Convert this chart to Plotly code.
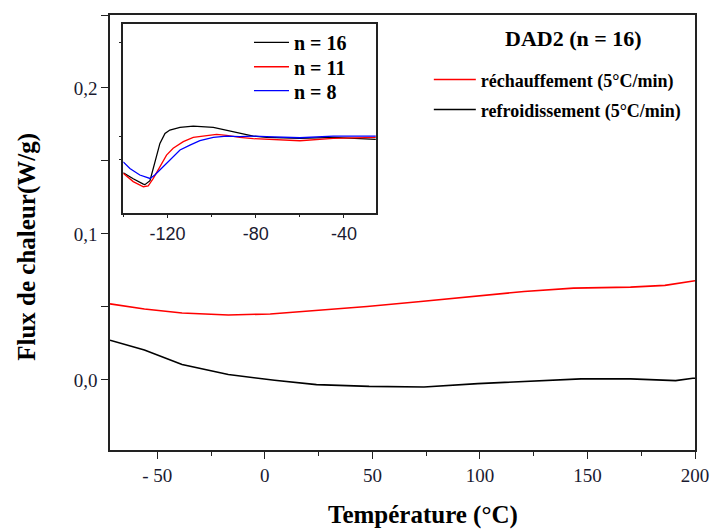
import plotly.graph_objects as go

# ---- Main chart data (Température °C, Flux de chaleur W/g) ----
heat_T = [-72.0, -56.0, -38.5, -17.0, 2.5, 24.0, 47.5, 72.5, 97.5, 120.5, 143.5, 170.0, 186.0, 199.0, 200.0]
heat_flux = [0.0521, 0.0486, 0.0459, 0.0445, 0.0452, 0.0475, 0.0503, 0.0537, 0.0574, 0.0606, 0.0629, 0.0636, 0.0648, 0.0678, 0.0680]

cool_T = [-72.0, -56.0, -38.5, -17.0, 4.5, 24.0, 48.5, 74.0, 99.0, 120.5, 147.0, 170.0, 191.0, 199.0, 200.0]
cool_flux = [0.0272, 0.0205, 0.0106, 0.0037, -0.0002, -0.0032, -0.0044, -0.0048, -0.0025, -0.0012, 0.0007, 0.0007, -0.0005, 0.0012, 0.0012]

# ---- Inset data (Température °C, flux in arbitrary units) ----
n16_T = [-140.0, -135.5, -130.9, -130.2, -127.9, -125.7, -123.4, -121.1, -118.9, -114.3, -108.3, -99.2, -93.2, -87.2, -81.1, -75.1, -60.0, -44.9, -25.6]
n16_y = [0.212, 0.180, 0.152, 0.149, 0.170, 0.262, 0.368, 0.421, 0.439, 0.453, 0.460, 0.453, 0.439, 0.421, 0.407, 0.400, 0.395, 0.400, 0.389]

n11_T = [-140.0, -135.5, -130.9, -128.7, -126.4, -123.4, -120.4, -117.4, -112.8, -108.3, -102.3, -97.7, -93.2, -87.2, -81.1, -75.1, -66.0, -60.0, -44.9, -25.6]
n11_y = [0.209, 0.165, 0.138, 0.142, 0.182, 0.244, 0.306, 0.342, 0.377, 0.400, 0.411, 0.416, 0.411, 0.400, 0.393, 0.389, 0.382, 0.382, 0.395, 0.400]

n8_T = [-140.0, -137.0, -132.5, -127.9, -125.7, -122.6, -118.9, -114.3, -109.8, -105.3, -99.2, -93.2, -87.2, -81.1, -75.1, -60.0, -44.9, -25.6]
n8_y = [0.270, 0.235, 0.200, 0.182, 0.200, 0.235, 0.280, 0.333, 0.359, 0.382, 0.400, 0.407, 0.404, 0.407, 0.404, 0.398, 0.407, 0.407]

# ---- Tick labels ----
x_tickvals = [-50, 0, 50, 100, 150, 200]
x_ticktext = ["- 50", "0", "50", "100", "150", "200"]
y_tickvals = [0.0, 0.1, 0.2]
y_ticktext = ["0,0", "0,1", "0,2"]
inset_x_tickvals = [-120, -80, -40]
inset_x_ticktext = ["-120", "-80", "-40"]

serif = "Liberation Serif"
sans = "Liberation Sans"
tickcol = "#1a1a30"
linecol = "#222222"

fig = go.Figure()

fig.add_trace(go.Scatter(x=heat_T, y=heat_flux, mode="lines", name="réchauffement (5°C/min)",
                         line=dict(color="#ff0000", width=1.6), legend="legend"))
fig.add_trace(go.Scatter(x=cool_T, y=cool_flux, mode="lines", name="refroidissement (5°C/min)",
                         line=dict(color="#000000", width=1.6), legend="legend2"))

fig.add_trace(go.Scatter(x=n16_T, y=n16_y, mode="lines", name="n = 16", xaxis="x2", yaxis="y2",
                         line=dict(color="#000000", width=1.3), legend="legend3"))
fig.add_trace(go.Scatter(x=n11_T, y=n11_y, mode="lines", name="n = 11", xaxis="x2", yaxis="y2",
                         line=dict(color="#ff0000", width=1.3), legend="legend4"))
fig.add_trace(go.Scatter(x=n8_T, y=n8_y, mode="lines", name="n = 8", xaxis="x2", yaxis="y2",
                         line=dict(color="#0000ff", width=1.3), legend="legend5"))

axis_common = dict(showgrid=False, zeroline=False, showline=True, mirror=True,
                   linecolor=linecol, linewidth=1.5, ticks="outside", tickcolor=linecol)

main_leg_font = dict(family=serif, size=18, color="black", weight="bold")
inset_leg_font = dict(family=serif, size=20, color="black", weight="bold")


def leg(x, y, font, iw=30):
    return dict(x=x, y=y, xanchor="left", yanchor="middle", bgcolor="rgba(0,0,0,0)",
                font=font, itemwidth=iw, visible=True)


fig.update_layout(
    width=712, height=529,
    margin=dict(l=110, r=17, t=15, b=79, autoexpand=False),
    paper_bgcolor="white", plot_bgcolor="white",
    showlegend=True,
    xaxis=dict(range=[-72, 200], domain=[0, 1], tickvals=x_tickvals, ticktext=x_ticktext,
               ticklen=7, tickwidth=1.3, tickfont=dict(family=serif, size=19, color=tickcol),
               minor=dict(tickvals=[-25, 25, 75, 125, 175], ticks="outside", ticklen=4,
                          tickcolor=linecol, tickwidth=1.2),
               **axis_common),
    yaxis=dict(range=[-0.048, 0.25], domain=[0, 1], tickvals=y_tickvals, ticktext=y_ticktext,
               ticklen=7, tickwidth=1.3, tickfont=dict(family=serif, size=19, color=tickcol),
               minor=dict(tickvals=[0.05, 0.15, 0.25], ticks="outside", ticklen=7,
                          tickcolor=linecol, tickwidth=1.2),
               **axis_common),
    xaxis2=dict(range=[-140, -25.5], domain=[0.0227, 0.4547], anchor="y2",
                tickvals=inset_x_tickvals, ticktext=inset_x_ticktext,
                ticklen=4, tickwidth=1.2, tickfont=dict(family=sans, size=18, color=tickcol),
                minor=dict(tickvals=[-140, -100, -60], ticks="outside", ticklen=3,
                           tickcolor=linecol, tickwidth=1.0),
                **axis_common),
    yaxis2=dict(range=[0, 1], domain=[0.5455, 0.9786], anchor="x2",
                tickvals=[0.283, 0.403, 0.902], showticklabels=False, ticklen=3, tickwidth=1.0,
                **axis_common),
    legend=leg(0.545, 0.851, main_leg_font, 42),
    legend2=leg(0.545, 0.782, main_leg_font, 42),
    legend3=leg(0.2376, 0.937, inset_leg_font, 35),
    legend4=leg(0.2376, 0.881, inset_leg_font, 35),
    legend5=leg(0.2376, 0.826, inset_leg_font, 35),
    annotations=[
        dict(text="DAD2 (n = 16)", x=0.793, y=0.947, xref="paper", yref="paper",
             showarrow=False, xanchor="center", yanchor="middle",
             font=dict(family=serif, size=22, color="black", weight="bold")),
        dict(text="Température (°C)", x=0.535, y=-0.149, xref="paper", yref="paper",
             showarrow=False, xanchor="center", yanchor="middle",
             font=dict(family=serif, size=25, color="black", weight="bold")),
        dict(text="Flux de chaleur(W/g)", x=-0.142, y=0.467, xref="paper", yref="paper",
             showarrow=False, xanchor="center", yanchor="middle", textangle=-90,
             font=dict(family=serif, size=25, color="black", weight="bold")),
    ],
)

fig.write_html("out.html", config={"displayModeBar": False},
               post_script="document.body.style.margin='0';")
